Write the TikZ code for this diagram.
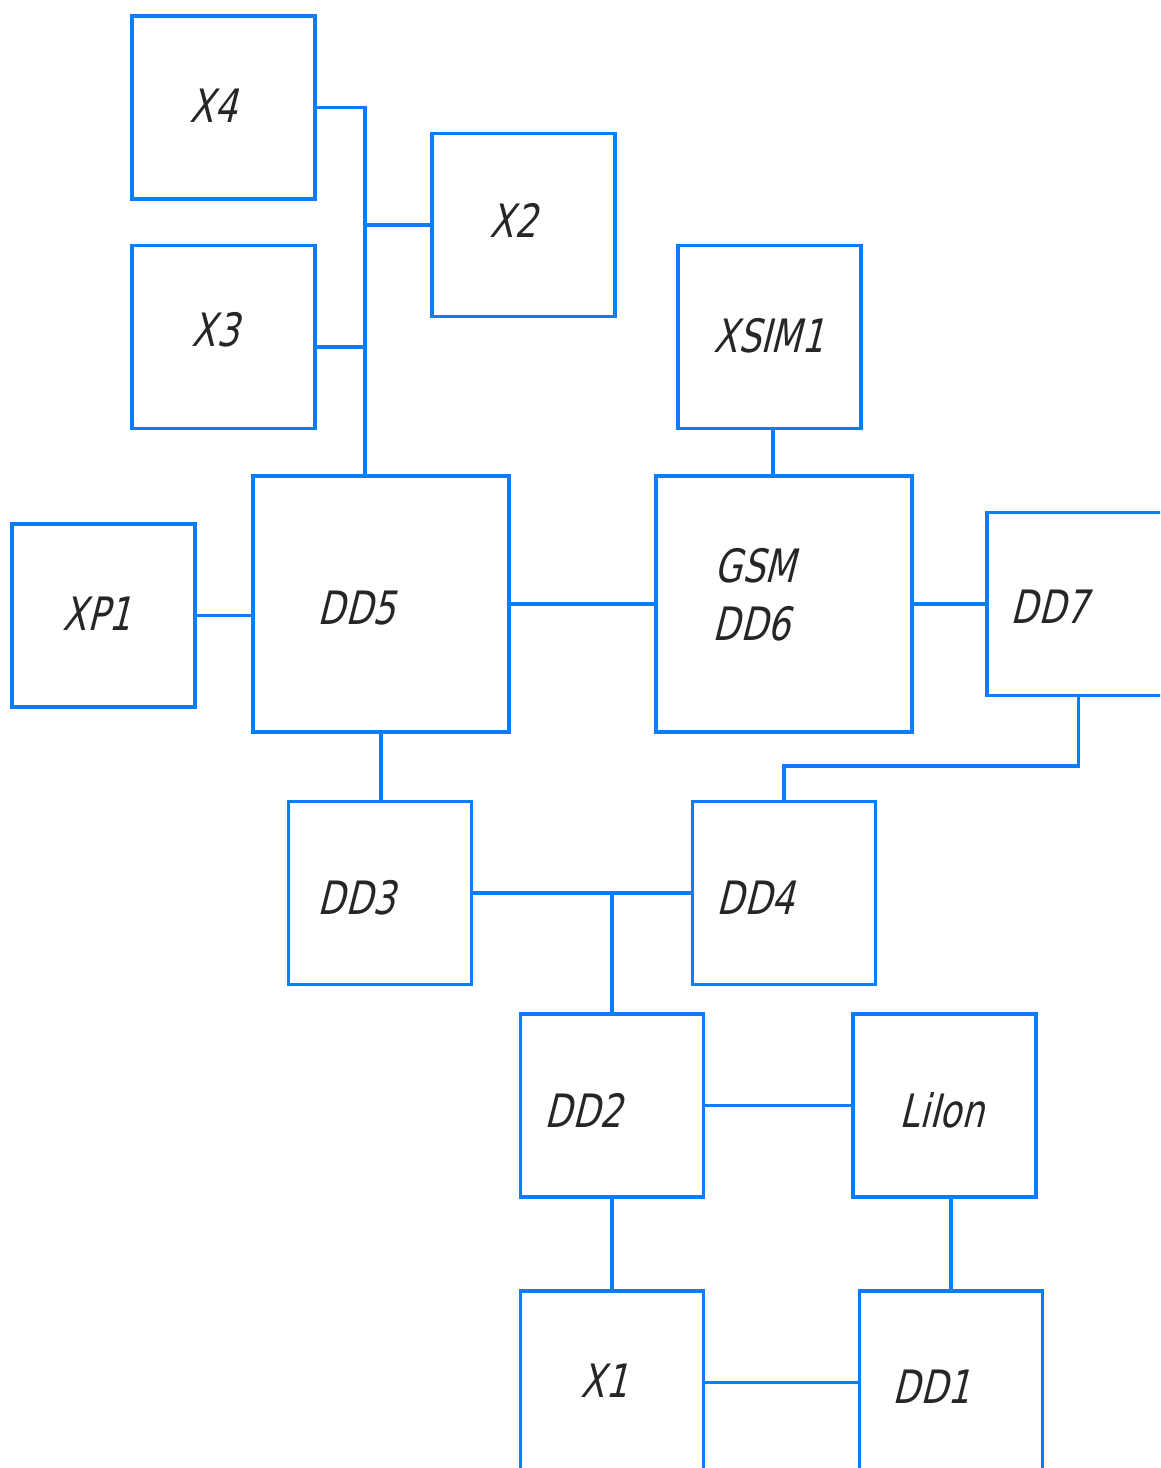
\documentclass[tikz,border=0pt]{standalone}
\usepackage{fontspec}
\newfontfamily\gostfont{DejaVu Sans}[FakeStretch=0.77,FakeSlant=0.25]
\definecolor{schblue}{RGB}{10,125,250}

\begin{document}
\begin{tikzpicture}[x=1pt, y=-1pt, line width=3.5pt, color=schblue,
        box/.style = {draw, minimum width=183pt, minimum height=183pt, inner sep=0pt},
        bigbox/.style = {box, minimum width=256pt, minimum height=256pt},
        lbl/.style = {anchor=base west, inner sep=0pt, text=black!85,
                      font=\gostfont\fontsize{46}{50}\selectfont}]
        \clip (0,0) rectangle (1160,1468);

        % blocks
        \node[box] (X4) at (223.5,107.5) {};
        \node[box] (X2) at (523.5,225) {};
        \node[box] (X3) at (223.5,337) {};
        \node[box] (XSIM1) at (769.5,337) {};
        \node[box] (XP1) at (103.5,615.5) {};
        \node[bigbox] (DD5) at (381,604) {};
        \node[bigbox] (DD6) at (784,604) {};
        \node[box] (DD7) at (1078.5,604) {};
        \node[box] (DD3) at (380,893) {};
        \node[box] (DD4) at (784,893) {};
        \node[box] (DD2) at (612,1105.5) {};
        \node[box] (LiIon) at (944.5,1105.5) {};
        \node[box] (X1) at (612,1382.5) {};
        \node[box] (DD1) at (951,1382.5) {};

        % texts
        \node[lbl] (X4-t) at (188,122) {X4};
        \node[lbl] (X2-t) at (488,237) {X2};
        \node[lbl] (X3-t) at (190,346) {X3};
        \node[lbl] (XSIM1-t) at (712,352) {XSIM1};
        \node[lbl] (XP1-t) at (61,630) {XP1};
        \node[lbl] (DD5-t) at (316,624) {DD5};
        \node[lbl] (GSM-t) at (713,582) {GSM};
        \node[lbl] (DD6-t) at (711,640) {DD6};
        \node[lbl] (DD7-t) at (1009,623) {DD7};
        \node[lbl] (DD3-t) at (316,914) {DD3};
        \node[lbl] (DD4-t) at (715,914) {DD4};
        \node[lbl] (DD2-t) at (543,1127) {DD2};
        \node[lbl] (LiIon-t) at (898,1127) {LiIon};
        \node[lbl] (X1-t) at (579,1397) {X1};
        \node[lbl] (DD1-t) at (891,1403) {DD1};

        % bus points
        \coordinate (bus) at (365,476);
        \coordinate (x3out) at (315.5,347);
        \coordinate (simout) at (773,428.5);
        \coordinate (bend7) at (1078.5,766);
        \coordinate (tap) at (612,893);

        \draw (X4.east) -| (bus);
        \draw (X2.west) -- (X2.west -| bus);
        \draw (x3out) -- (x3out -| bus);
        \draw (simout) -- (simout |- DD6.north);
        \draw (XP1.east) -- (XP1.east -| DD5.west);
        \draw (DD5) -- (DD6);
        \draw (DD6) -- (DD7);
        \draw (DD7.south) -- (bend7) -| (DD4.north);
        \draw (DD5.south) -- (DD5.south |- DD3.north);
        \draw (DD3) -- (DD4);
        \draw (tap) -- (DD2.north);
        \draw (DD2) -- (LiIon);
        \draw (DD2) -- (X1);
        \draw (DD1.north |- LiIon.south) -- (DD1.north);
        \draw (X1) -- (DD1);
\end{tikzpicture}
\end{document}
